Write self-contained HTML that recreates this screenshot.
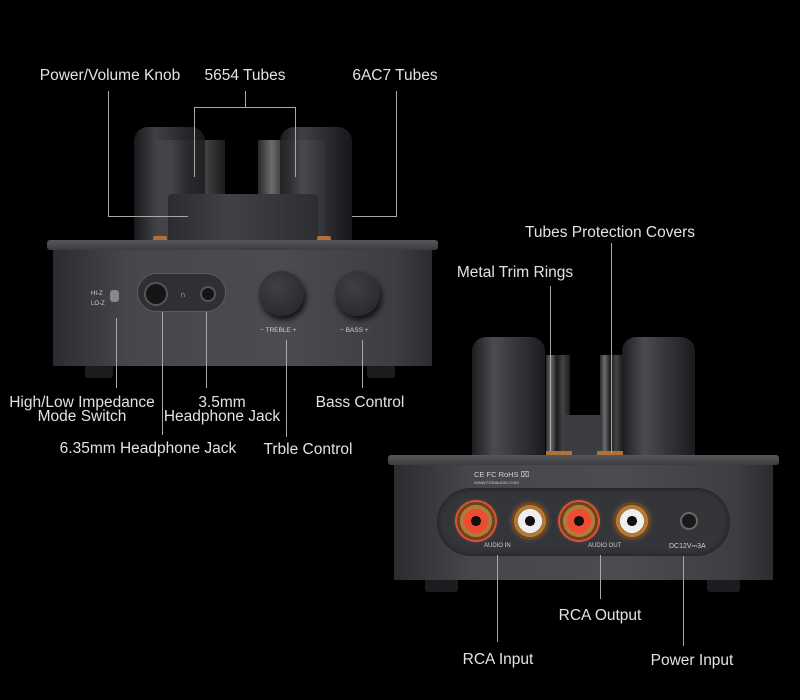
<!DOCTYPE html>
<html><head><meta charset="utf-8"><style>
*{margin:0;padding:0;box-sizing:border-box}
body{width:800px;height:700px;background:#000;position:relative;overflow:hidden;font-family:"Liberation Sans",sans-serif}
div{position:absolute}
.t{color:#e2e2e2;font-size:15.5px;white-space:nowrap;text-align:center;line-height:15px}
.v{width:1px;background:#a8a8a8}
.h{height:1px;background:#a8a8a8}
.lid{background:linear-gradient(#55575b,#3a3c40);border-radius:3px}
.body{background:linear-gradient(90deg,#2a2c30,#45474b 20%,#4a4c50 60%,#3c3e42 90%,#2a2c2f)}
.foot{background:#1c1c1e;border-radius:0 0 3px 3px}
.tube{background:linear-gradient(90deg,#1c1d20,#4a4c50 30%,#2e3034 70%,#1a1b1d);border-radius:14px 14px 0 0}
.glass{background:linear-gradient(90deg,#333,#888 20%,#222 45%,#555 70%,#222);opacity:.8}
.knob{border-radius:50%;background:radial-gradient(circle at 40% 35%,#3e4044,#232427);box-shadow:2px 4px 6px #111}
.rca{border-radius:50%;background:radial-gradient(circle,#111 0 5px,#eee 5px 12px,#b07a3a 12px 16px,#6a4520 16px 19px,#3b3b3e 19px)}
.rca.r{background:radial-gradient(circle,#111 0 5px,#f04a30 5px 12px,#b07a3a 12px 16px,#6a4520 16px 19px,#e05030 19px 21px,#3b3b3e 21px)}
.sm{color:#cfcfcf;font-size:6px;white-space:nowrap}
</style></head><body>

<!-- LEFT UNIT -->
<div class="glass" style="left:157px;top:140px;width:68px;height:100px"></div>
<div class="glass" style="left:258px;top:140px;width:68px;height:100px"></div>
<div class="tube" style="left:134px;top:127px;width:71px;height:113px;opacity:.85"></div>
<div class="tube" style="left:280px;top:127px;width:72px;height:113px;opacity:.85"></div>
<div style="left:168px;top:194px;width:150px;height:46px;background:linear-gradient(90deg,#2a2c30,#3f4145 40%,#2c2e32);border-radius:4px 4px 0 0"></div>
<div style="left:153px;top:236px;width:14px;height:5px;background:#b0703a;border-radius:2px"></div>
<div style="left:317px;top:236px;width:14px;height:5px;background:#b0703a;border-radius:2px"></div>
<div class="lid" style="left:47px;top:240px;width:391px;height:10px"></div>
<div class="body" style="left:53px;top:250px;width:379px;height:116px"></div>
<div class="foot" style="left:85px;top:366px;width:28px;height:12px"></div>
<div class="foot" style="left:367px;top:366px;width:28px;height:12px"></div>
<div class="sm" style="left:91px;top:291px">HI-Z</div>
<div class="sm" style="left:91px;top:301px">LO-Z</div>
<div style="left:110px;top:290px;width:9px;height:12px;background:#888;border-radius:3px"></div>
<div style="left:137px;top:273px;width:89px;height:39px;border:1.5px solid #5a5c60;border-radius:20px;background:#2e3034"></div>
<div style="left:144px;top:282px;width:24px;height:24px;border-radius:50%;background:#151517;border:2px solid #555"></div>
<div style="left:200px;top:286px;width:16px;height:16px;border-radius:50%;background:#151517;border:2px solid #555"></div>
<div class="sm" style="left:180px;top:290px;font-size:8px">∩</div>
<div class="knob" style="left:259px;top:271px;width:45px;height:45px"></div>
<div class="knob" style="left:335px;top:271px;width:45px;height:45px"></div>
<div class="sm" style="left:260px;top:327px;font-size:6.5px">− TREBLE +</div>
<div class="sm" style="left:340px;top:327px;font-size:6.5px">− BASS +</div>

<!-- RIGHT UNIT -->
<div class="glass" style="left:546px;top:355px;width:24px;height:97px"></div>
<div class="glass" style="left:600px;top:355px;width:23px;height:97px"></div>
<div style="left:565px;top:415px;width:37px;height:40px;background:#3a3c40"></div>
<div class="tube" style="left:472px;top:337px;width:73px;height:118px"></div>
<div class="tube" style="left:622px;top:337px;width:73px;height:118px"></div>
<div style="left:546px;top:451px;width:26px;height:4px;background:#b0703a"></div>
<div style="left:597px;top:451px;width:26px;height:4px;background:#b0703a"></div>
<div class="lid" style="left:388px;top:455px;width:391px;height:10px"></div>
<div class="body" style="left:394px;top:465px;width:379px;height:115px"></div>
<div class="foot" style="left:425px;top:580px;width:33px;height:12px"></div>
<div class="foot" style="left:707px;top:580px;width:33px;height:12px"></div>
<div class="sm" style="left:474px;top:470px;font-size:7.5px">CE FC RoHS ⌧</div>
<div class="sm" style="left:474px;top:480px;font-size:4px">WWW.FOSIAUDIO.COM</div>
<div style="left:437px;top:488px;width:293px;height:68px;border-radius:34px;background:#333539;box-shadow:inset 0 0 6px #1a1a1c"></div>
<div class="rca r" style="left:453px;top:498px;width:46px;height:46px"></div>
<div class="rca" style="left:508px;top:499px;width:44px;height:44px"></div>
<div class="rca r" style="left:556px;top:498px;width:46px;height:46px"></div>
<div class="rca" style="left:610px;top:499px;width:44px;height:44px"></div>
<div style="left:680px;top:512px;width:18px;height:18px;border-radius:50%;background:#1a1a1a;border:2px solid #666"></div>
<div class="sm" style="left:484px;top:543px">AUDIO IN</div>
<div class="sm" style="left:588px;top:543px">AUDIO OUT</div>
<div class="sm" style="left:669px;top:543px;font-size:7px">DC12V⎓3A</div>

<!-- CONNECTORS -->
<div class="v" style="left:108px;top:91px;height:126px"></div>
<div class="h" style="left:108px;top:216px;width:80px"></div>
<div class="v" style="left:245px;top:91px;height:16px"></div>
<div class="h" style="left:194px;top:107px;width:102px"></div>
<div class="v" style="left:194px;top:107px;height:70px"></div>
<div class="v" style="left:295px;top:107px;height:70px"></div>
<div class="v" style="left:396px;top:91px;height:126px"></div>
<div class="h" style="left:352px;top:216px;width:45px"></div>

<div class="v" style="left:116px;top:318px;height:70px"></div>
<div class="v" style="left:162px;top:312px;height:123px"></div>
<div class="v" style="left:206px;top:312px;height:76px"></div>
<div class="v" style="left:286px;top:340px;height:97px"></div>
<div class="v" style="left:362px;top:340px;height:48px"></div>

<div class="v" style="left:611px;top:243px;height:210px"></div>
<div class="v" style="left:550px;top:286px;height:165px"></div>
<div class="v" style="left:497px;top:555px;height:87px"></div>
<div class="v" style="left:600px;top:555px;height:44px"></div>
<div class="v" style="left:683px;top:556px;height:90px"></div>

<!-- LABELS -->
<div class="t" style="left:30px;top:68px;width:160px">Power/Volume Knob</div>
<div class="t" style="left:185px;top:68px;width:120px">5654 Tubes</div>
<div class="t" style="left:340px;top:68px;width:110px">6AC7 Tubes</div>
<div class="t" style="left:0px;top:395px;width:164px">High/Low Impedance</div>
<div class="t" style="left:0px;top:409px;width:164px">Mode Switch</div>
<div class="t" style="left:160px;top:395px;width:124px">3.5mm</div>
<div class="t" style="left:160px;top:409px;width:124px">Headphone Jack</div>
<div class="t" style="left:300px;top:395px;width:120px">Bass Control</div>
<div class="t" style="left:48px;top:441px;width:200px">6.35mm Headphone Jack</div>
<div class="t" style="left:248px;top:442px;width:120px">Trble Control</div>
<div class="t" style="left:510px;top:225px;width:200px">Tubes Protection Covers</div>
<div class="t" style="left:440px;top:265px;width:150px">Metal Trim Rings</div>
<div class="t" style="left:540px;top:608px;width:120px">RCA Output</div>
<div class="t" style="left:440px;top:652px;width:116px">RCA Input</div>
<div class="t" style="left:630px;top:653px;width:124px">Power Input</div>
</body></html>
